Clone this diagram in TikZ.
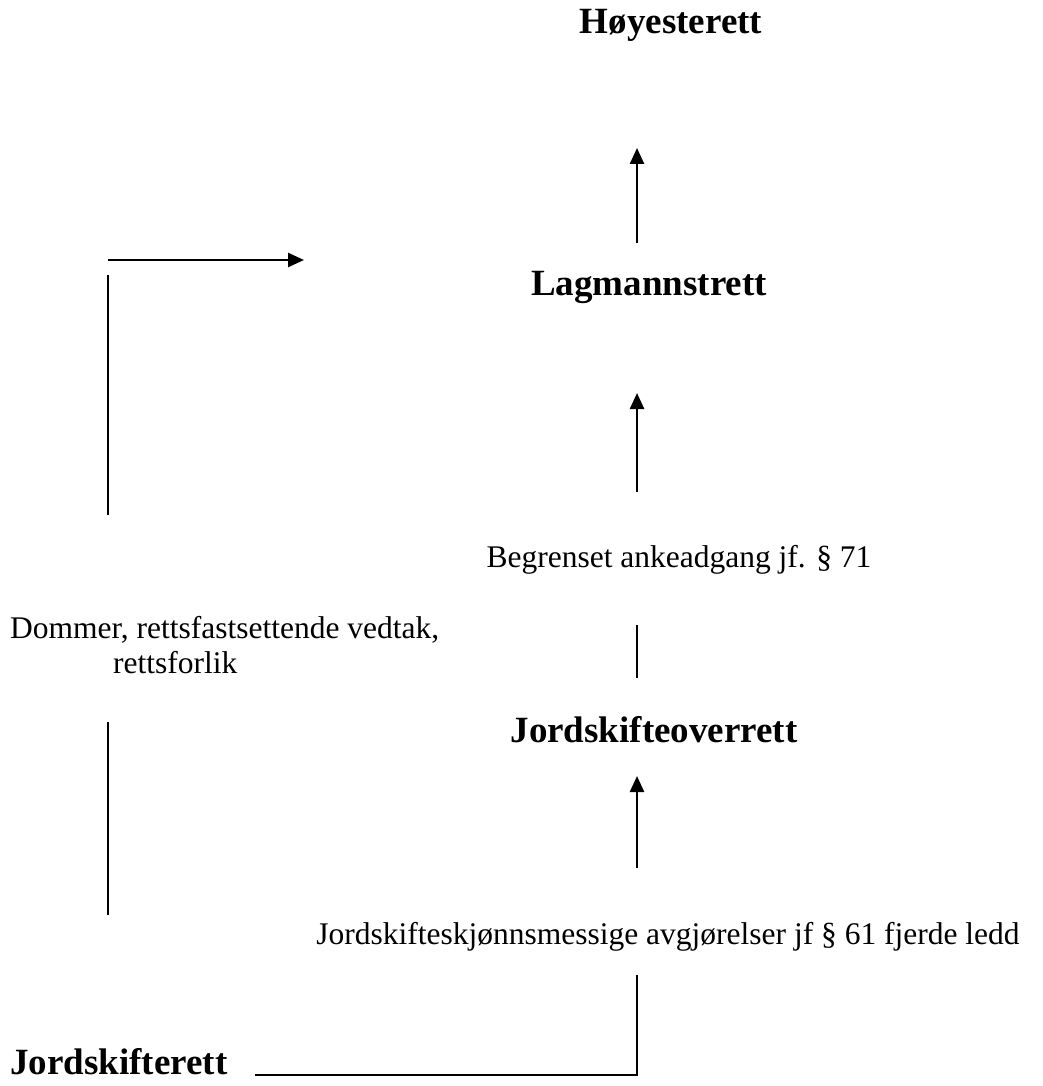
\documentclass[tikz,border=0pt]{standalone}
\usepackage{fontspec}
\setmainfont{Liberation Serif}
\usetikzlibrary{arrows.meta}
\tikzset{
  court/.style={font=\fontsize{37}{42}\selectfont\bfseries, inner sep=0pt},
  note/.style={font=\fontsize{31.5}{35}\selectfont, inner sep=0pt, align=center},
  link/.style={line width=2.5pt},
  uplink/.style={link, -{Triangle[length=16pt,width=14pt]}}
}
\begin{document}
\begin{tikzpicture}[x=1pt,y=-1pt]
      \useasboundingbox (0,0) rectangle (1042,1086);
      \draw
        (671,25) node[court] (hr){Høyesterett}
        (649,287) node[court] (lr){Lagmannstrett}
        (679,560) node[note] (begr){Begrenset ankeadgang jf. § 71}
        (654,730) node[court] (jov){Jordskifteoverrett}
        (668,937) node[note] (skjonn){Jordskifteskjønnsmessige avgjørelser jf § 61 fjerde ledd}
        (10,1062) node[court, anchor=west] (jr){Jordskifterett}
        (10,645) node[note, anchor=west, align=left] (dom){Dommer, rettsfastsettende vedtak,\\\hspace*{103pt}rettsforlik};
      \coordinate (a1) at (637,243);
      \coordinate (a2) at (637,148);
      \coordinate (b1) at (637,492);
      \coordinate (b2) at (637,393);
      \coordinate (c1) at (637,625);
      \coordinate (c2) at (637,678);
      \coordinate (d1) at (637,868);
      \coordinate (d2) at (637,776);
      \coordinate (e1) at (637,975);
      \coordinate (e2) at (637,1075);
      \coordinate (e3) at (255,1075);
      \coordinate (f1) at (108,915);
      \coordinate (f2) at (108,722);
      \coordinate (g1) at (108,515);
      \coordinate (g2) at (108,275);
      \coordinate (h1) at (108,260);
      \coordinate (h2) at (304,260);
      \begin{scope}[link]
        \draw[uplink] (a1) to (a2);
        \draw[uplink] (b1) to (b2);
        \draw (c1) to (c2);
        \draw[uplink] (d1) to (d2);
        \draw (e1) to (e2) to (e3);
        \draw (f1) to (f2);
        \draw (g1) to (g2);
        \draw[uplink] (h1) to (h2);
      \end{scope}
    \end{tikzpicture}
\end{document}
